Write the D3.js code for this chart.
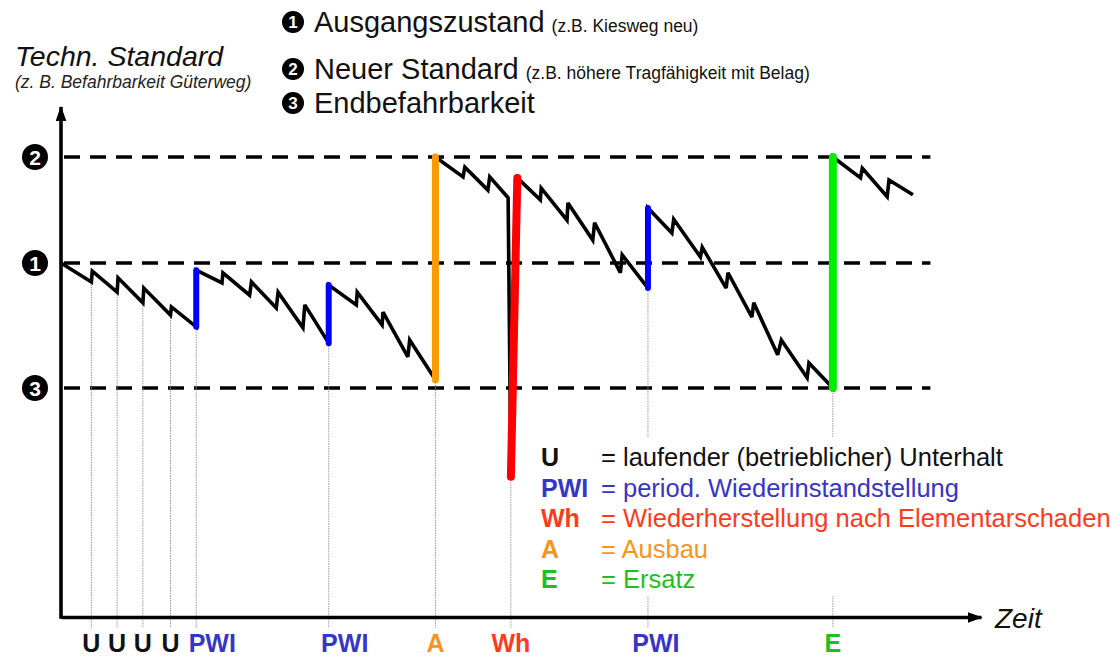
<!DOCTYPE html>
<html><head><meta charset="utf-8">
<script src="https://cdn.jsdelivr.net/npm/d3@7"></script>
<style>
body{margin:0;background:#fff;}
svg{display:block;font-family:"Liberation Sans",Arial,sans-serif;}
</style></head><body>
<svg id="chart" width="1117" height="657"></svg>
<script>
// ---------- data ----------
const levelIds = ["2", "1", "3"];
const levelValues = [90.2, 69.4, 44.9];

const curveTime = [0, 3.3, 3.4, 6.1, 6.2, 8.9, 9.0, 11.9, 12.0, 14.7, 14.7,
  17.5, 17.6, 20.5, 20.7, 23.4, 23.6, 26.3, 26.5, 29.1, 29.1,
  32.1, 32.2, 34.9, 35.0, 37.7, 37.9, 40.7, 40.7,
  43.7, 43.9, 46.4, 46.6, 48.6, 48.9, 49.6,
  52.1, 52.2, 55.0, 55.1, 57.8, 58.0, 60.8, 61.0, 63.8, 63.8,
  66.4, 66.6, 69.5, 69.7, 72.3, 72.5, 75.1, 75.3, 77.9, 78.3, 81.1, 81.3, 83.9, 83.9,
  86.9, 87.1, 89.8, 90.0, 92.6];
const curveStandard = [69.4, 65.7, 67.8, 63.7, 66.5, 61.6, 64.5, 59.2, 60.8, 56.9, 68.0,
  65.5, 67.5, 63.1, 65.7, 60.6, 63.7, 56.7, 61.2, 53.7, 65.1,
  61.2, 63.7, 57.3, 59.8, 51.0, 54.3, 46.5, 90.2,
  86.3, 88.2, 83.7, 86.3, 82.2, 27.5, 86.1,
  81.8, 84.1, 77.8, 81.2, 73.9, 77.3, 67.5, 71.0, 64.5, 80.2,
  75.3, 78.0, 70.6, 72.5, 64.5, 67.5, 58.8, 61.6, 51.4, 54.3, 46.9, 49.8, 44.9, 90.2,
  86.1, 88.0, 82.4, 85.7, 82.8];

const eventLabels    = ["U", "U", "U", "U", "PWI", "PWI", "A", "Wh", "PWI", "E"];
const eventTimeStart = [3.3, 6.1, 8.9, 11.9, 14.7, 29.1, 40.7, 48.9, 63.8, 83.9];
const eventTimeEnd   = [3.4, 6.2, 9.0, 12.0, 14.7, 29.1, 40.7, 49.6, 63.8, 83.9];
const eventFrom      = [65.7, 63.7, 61.6, 59.2, 56.9, 53.7, 46.5, 27.5, 64.5, 44.9];
const eventTo        = [67.8, 66.5, 64.5, 60.8, 68.0, 65.1, 90.2, 86.1, 80.2, 90.2];

const legendCodes = ["U", "PWI", "Wh", "A", "E"];
const legendTexts = ["laufender (betrieblicher) Unterhalt", "period. Wiederinstandstellung",
  "Wiederherstellung nach Elementarschaden", "Ausbau", "Ersatz"];

const stateNumbers = ["1", "2", "3"];
const stateNames = ["Ausgangszustand", "Neuer Standard", "Endbefahrbarkeit"];
const stateNotes = ["(z.B. Kiesweg neu)", "(z.B. höhere Tragfähigkeit mit Belag)", ""];

const yTitle = "Techn. Standard";
const ySubtitle = "(z. B. Befahrbarkeit Güterweg)";
const xTitle = "Zeit";

// ---------- styles ----------
const markColor = {PWI: "#0000ff", A: "#ff9900", Wh: "#ff0000", E: "#00ee00"};
const markWidth = {PWI: 6, A: 7, Wh: 8, E: 8};
const textColor = {U: "#111111", PWI: "#3535c8", A: "#f7941d", Wh: "#ff3a1a", E: "#1fbf1f"};

// ---------- scales ----------
const svg = d3.select("#chart");
const x = d3.scaleLinear().domain([0, 100]).range([61, 981]);
const y = d3.scaleLinear().domain([0, 100]).range([617, 107]);

// arrow marker
const defs = svg.append("defs");
defs.append("marker").attr("id", "arrow")
  .attr("viewBox", "0 0 14 10").attr("refX", 13).attr("refY", 5)
  .attr("markerUnits", "userSpaceOnUse").attr("markerWidth", 15).attr("markerHeight", 11)
  .attr("orient", "auto")
  .append("path").attr("d", "M0,0 L14,5 L0,10 Z").attr("fill", "#000");

// level dashed lines
svg.append("g").selectAll("line").data(levelValues).join("line")
  .attr("x1", x(0) + 3).attr("x2", x(94.5))
  .attr("y1", d => y(d)).attr("y2", d => y(d))
  .attr("stroke", "#000").attr("stroke-width", 3.6)
  .attr("stroke-dasharray", "16,10");

// level markers
const lm = svg.append("g").selectAll("g").data(levelIds).join("g")
  .attr("transform", (d, i) => `translate(35,${y(levelValues[i])})`);
lm.append("circle").attr("r", 13).attr("fill", "#000");
lm.append("text").text(d => d).attr("text-anchor", "middle").attr("dy", "0.36em")
  .attr("fill", "#fff").attr("font-weight", "bold").attr("font-size", 21);

// grey event lines
svg.append("g").selectAll("line").data(eventLabels).join("line")
  .attr("x1", (d, i) => x(eventTimeStart[i])).attr("x2", (d, i) => x(eventTimeStart[i]))
  .attr("y1", (d, i) => y(eventFrom[i])).attr("y2", y(0) + 11)
  .attr("stroke", "#9a9a9a").attr("stroke-width", 1)
  .attr("stroke-dasharray", "1.5,1");

// black curve
const pts = curveTime.map((t, i) => [t, curveStandard[i]]);
svg.append("path").datum(pts)
  .attr("d", d3.line().x(d => x(d[0])).y(d => y(d[1])))
  .attr("fill", "none").attr("stroke", "#000").attr("stroke-width", 3.6)
  .attr("stroke-linejoin", "miter").attr("stroke-miterlimit", 3);

// coloured interventions
const ev = eventLabels.map((l, i) => ({l, i})).filter(d => d.l !== "U");
svg.append("g").selectAll("line").data(ev).join("line")
  .attr("x1", d => x(eventTimeStart[d.i])).attr("x2", d => x(eventTimeEnd[d.i]))
  .attr("y1", d => y(eventFrom[d.i])).attr("y2", d => y(eventTo[d.i]))
  .attr("stroke", d => markColor[d.l]).attr("stroke-width", d => markWidth[d.l])
  .attr("stroke-linecap", "round");

// axes
const xAxis = svg.append("g").attr("transform", `translate(0,${y(0)})`)
  .call(d3.axisBottom(x).ticks(0).tickSizeOuter(0));
xAxis.select(".domain").attr("stroke-width", 3.6).attr("marker-end", "url(#arrow)");
const yAxis = svg.append("g").attr("transform", `translate(${x(0)},0)`)
  .call(d3.axisLeft(y).ticks(0).tickSizeOuter(0));
yAxis.select(".domain").attr("stroke-width", 3.6).attr("d", `M0,${y(0) + 1.8}V${y(100)}`)
  .attr("marker-end", "url(#arrow)");

// event labels under x axis
const nudge = {PWI: [16, 16, 8]};
let pwiCount = 0;
svg.append("g").selectAll("text").data(eventLabels).join("text")
  .text(d => d)
  .attr("x", (d, i) => x(eventTimeStart[i]) + (d === "PWI" ? nudge.PWI[pwiCount++] : 0))
  .attr("y", 652).attr("text-anchor", "middle")
  .attr("font-weight", "bold").attr("font-size", 25)
  .attr("fill", d => textColor[d]);

// axis titles
svg.append("text").text(xTitle).attr("x", 995).attr("y", 628)
  .attr("font-style", "italic").attr("font-size", 28).attr("fill", "#111");
svg.append("text").text(yTitle).attr("x", 15).attr("y", 66)
  .attr("font-style", "italic").attr("font-size", 28.5).attr("fill", "#111");
svg.append("text").text(ySubtitle).attr("x", 15).attr("y", 88)
  .attr("font-style", "italic").attr("font-size", 17.5).attr("fill", "#222");

// top state legend
const rowY = [32, 79, 113];
const sg = svg.append("g").selectAll("g").data(stateNames).join("g");
sg.append("circle").attr("cx", 293).attr("cy", (d, i) => rowY[i] - 10).attr("r", 11).attr("fill", "#000");
sg.append("text").text((d, i) => stateNumbers[i]).attr("x", 293).attr("y", (d, i) => rowY[i] - 4)
  .attr("text-anchor", "middle").attr("fill", "#fff").attr("font-weight", "bold").attr("font-size", 17);
const st = sg.append("text").attr("x", 314).attr("y", (d, i) => rowY[i]).attr("fill", "#111");
st.append("tspan").text(d => d).attr("font-size", 29);
st.append("tspan").text((d, i) => stateNotes[i]).attr("font-size", 17.5).attr("dx", 7);

// bottom code legend
svg.append("rect").attr("x", 528).attr("y", 438).attr("width", 589).attr("height", 158).attr("fill", "#fff");
const lg = svg.append("g").selectAll("g").data(legendCodes).join("g")
  .attr("transform", (d, i) => `translate(0,${466 + i * 30.5})`);
lg.append("text").text(d => d).attr("x", 541).attr("font-weight", "bold").attr("font-size", 25)
  .attr("fill", d => textColor[d]);
lg.append("text").text((d, i) => "= " + legendTexts[i]).attr("x", 601).attr("font-size", 25.5)
  .attr("fill", d => textColor[d]);
</script>
</body></html>
